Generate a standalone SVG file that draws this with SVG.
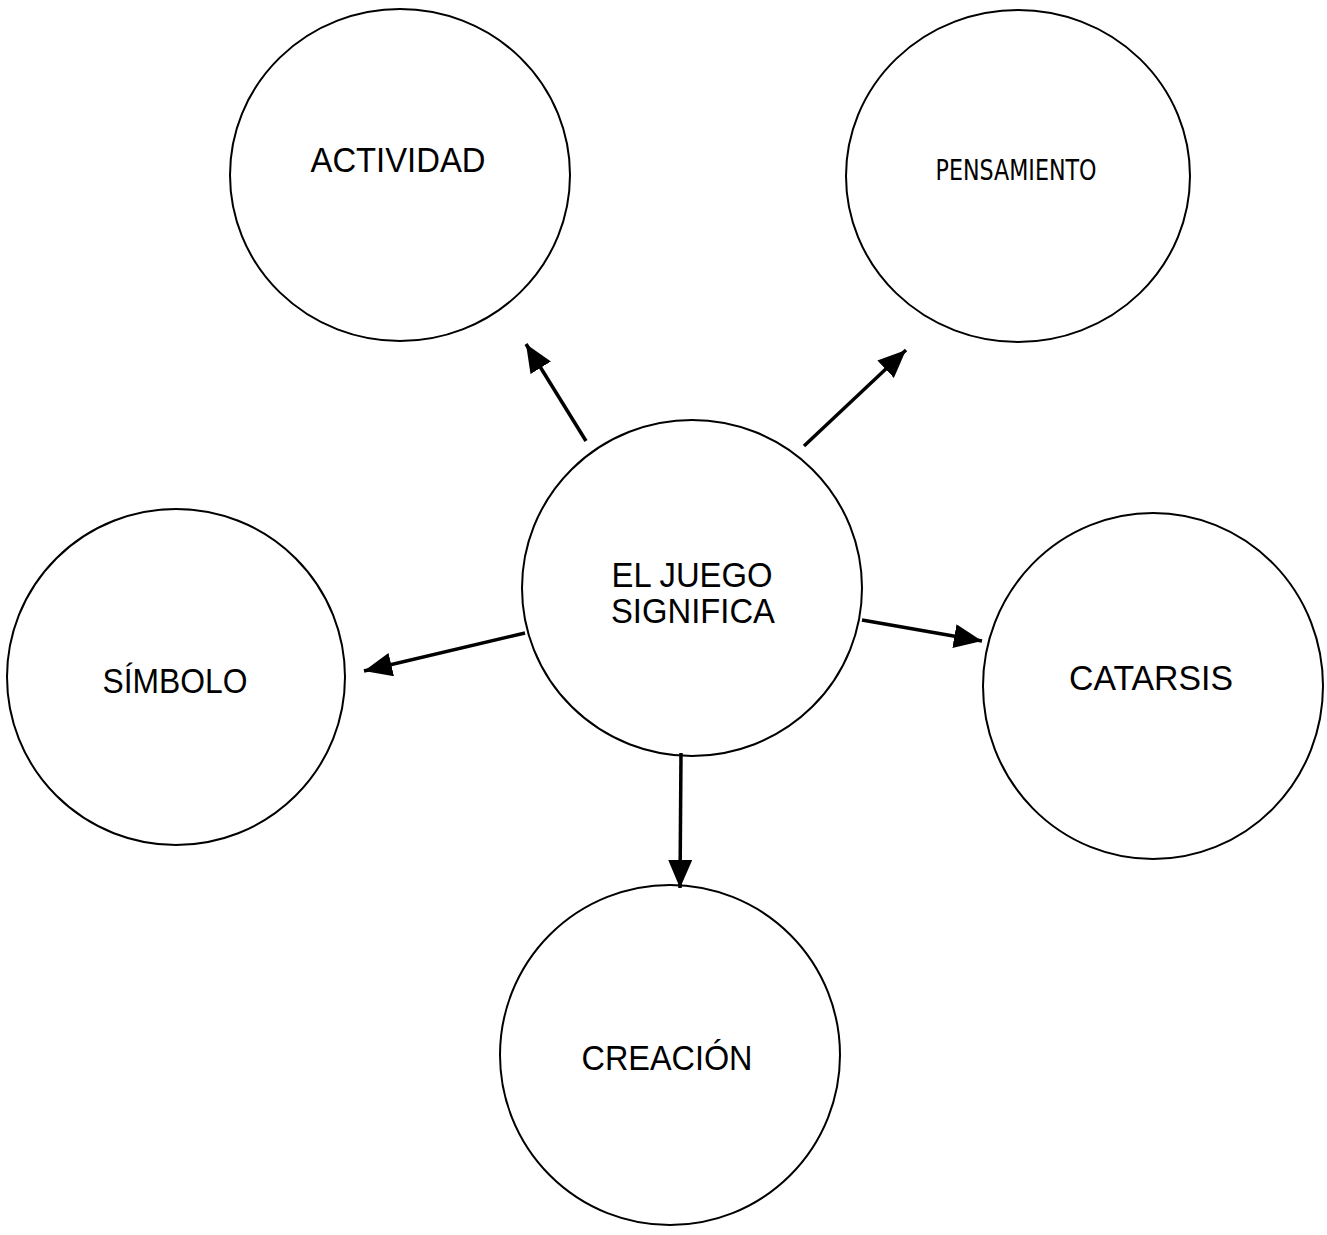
<svg xmlns="http://www.w3.org/2000/svg" width="1327" height="1235" viewBox="0 0 1327 1235">
<style>
.node{fill:#fff;stroke:#000;stroke-width:2}
.lbl{font-family:"Liberation Sans",Arial,sans-serif;font-size:35px;fill:#000;text-anchor:middle}
.cond{font-family:"Liberation Sans Narrow","DejaVu Sans Condensed","Liberation Sans",sans-serif;font-size:29px;fill:#000;text-anchor:middle}
.edge{stroke:#000;stroke-width:3.5;fill:none}
</style>
<defs>
<marker id="ah" markerUnits="userSpaceOnUse" markerWidth="30" markerHeight="26" refX="28" refY="12" orient="auto">
<path d="M0,0 L28,12 L0,24 Z" fill="#000"/>
</marker>
</defs>
<rect width="1327" height="1235" fill="#fff"/>
<g id="n-actividad"><ellipse class="node" cx="400" cy="175" rx="170" ry="166"/><text class="lbl" x="398" y="172" textLength="175" lengthAdjust="spacingAndGlyphs">ACTIVIDAD</text></g>
<g id="n-pensamiento"><ellipse class="node" cx="1018" cy="176" rx="172" ry="166"/><text class="cond" x="1016" y="180" textLength="161" lengthAdjust="spacingAndGlyphs">PENSAMIENTO</text></g>
<g id="n-centro"><ellipse class="node" cx="692" cy="588" rx="170" ry="168"/><text class="lbl" x="692" y="587" textLength="161" lengthAdjust="spacingAndGlyphs">EL JUEGO</text><text class="lbl" x="693" y="623" textLength="164" lengthAdjust="spacingAndGlyphs">SIGNIFICA</text></g>
<g id="n-simbolo"><ellipse class="node" cx="176" cy="677" rx="169" ry="168"/><text class="lbl" x="175" y="693" textLength="145" lengthAdjust="spacingAndGlyphs">SÍMBOLO</text></g>
<g id="n-catarsis"><ellipse class="node" cx="1153" cy="686" rx="170" ry="173"/><text class="lbl" x="1151" y="690" textLength="164" lengthAdjust="spacingAndGlyphs">CATARSIS</text></g>
<g id="n-creacion"><ellipse class="node" cx="670" cy="1055" rx="170" ry="170"/><text class="lbl" x="667" y="1070" textLength="171" lengthAdjust="spacingAndGlyphs">CREACIÓN</text></g>
<g id="connectors">
<line class="edge" x1="586" y1="441" x2="526" y2="344" marker-end="url(#ah)"/>
<line class="edge" x1="804" y1="446" x2="906" y2="350" marker-end="url(#ah)"/>
<line class="edge" x1="525" y1="633" x2="364" y2="671" marker-end="url(#ah)"/>
<line class="edge" x1="862" y1="620" x2="982" y2="641" marker-end="url(#ah)"/>
<line class="edge" x1="681" y1="753" x2="680" y2="888" marker-end="url(#ah)"/>
</g>
</svg>
